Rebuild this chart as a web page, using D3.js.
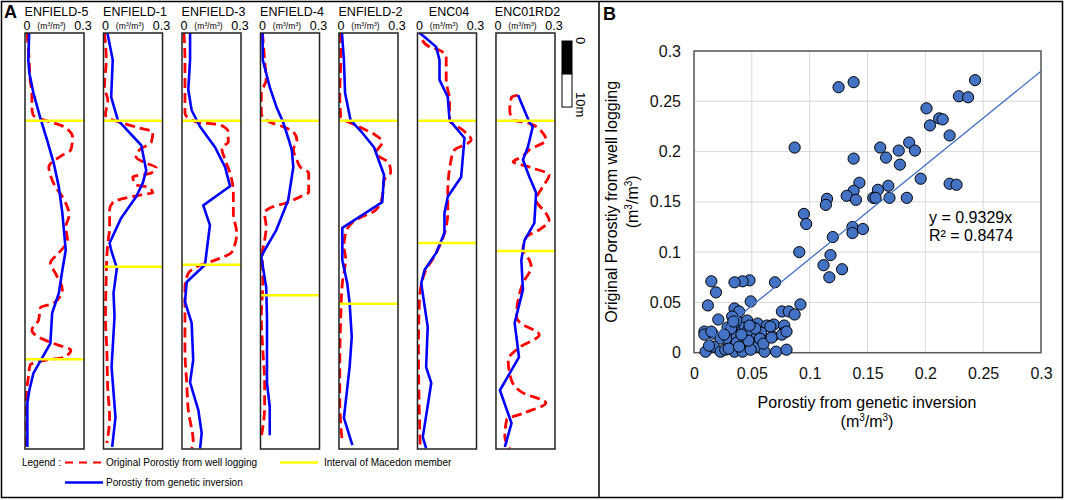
<!DOCTYPE html>
<html><head><meta charset="utf-8">
<script src="https://cdn.jsdelivr.net/npm/d3@7"></script>
<style>body{margin:0;background:#fff}svg{display:block;font-family:"Liberation Sans",Arial,sans-serif}</style>
</head><body><svg width="1065" height="500"></svg>
<script>
// ---------------- DATA ----------------
const wellNames = ["ENFIELD-5","ENFIELD-1","ENFIELD-3","ENFIELD-4","ENFIELD-2","ENC04","ENC01RD2"];
const poroTicks = [0, 0.3];
const poroTickLabels = ["0", "0.3"];
const macedonTop  = [13.3, 13.3, 13.3, 13.3, 13.3, 13.3, 13.3];
const macedonBase = [49.4, 35.4, 35.1, 39.7, 41.0, 31.8, 33.0];

// [depth (m), porosity] — original porosity from well logging
const enfield5Log = [[0,0.010],[4.1,0.021],[7.1,0.026],[9.1,0.035],[11.2,0.035],[12.4,0.041],[14.2,0.198],[15.8,0.242],[17.7,0.233],[18.5,0.190],[20.3,0.121],[21.5,0.129],[23.3,0.155],[24.8,0.190],[27.6,0.224],[29.4,0.207],[31.4,0.216],[33.3,0.172],[34.8,0.129],[36.4,0.155],[38.9,0.190],[40.9,0.146],[41.6,0.078],[43.5,0.069],[45.0,0.035],[46.2,0.078],[47.3,0.172],[48.0,0.233],[49.1,0.198],[49.5,0.112],[50.3,0.026],[52.1,0.017],[54.1,0.009],[58.2,0.005],[62.7,0.005]];
const enfield1Log = [[0,0.005],[4.1,0.014],[8.2,0.005],[10.2,0.022],[12.4,0.010],[14.4,0.183],[15.0,0.251],[16.5,0.243],[17.7,0.183],[18.8,0.166],[19.7,0.217],[20.4,0.268],[21.2,0.243],[21.8,0.149],[23.0,0.166],[23.3,0.217],[24.2,0.251],[24.5,0.192],[25.7,0.047],[26.8,0.031],[29.4,0.031],[31.8,0.022],[33.9,0.017],[37.0,0.014],[43.0,0.010],[48.0,0.017],[54.1,0.022],[58.2,0.031],[62.1,0.017]];
const enfield3Log = [[0,0.010],[4.1,0.015],[9.1,0.015],[12.1,0.015],[13.5,0.075],[13.9,0.193],[15.0,0.235],[16.5,0.235],[17.4,0.202],[19.2,0.219],[21.2,0.244],[24.2,0.261],[27.3,0.261],[30.3,0.278],[33.2,0.253],[34.4,0.168],[35.4,0.075],[36.4,0.032],[38.5,0.015],[43.0,0.015],[48.0,0.015],[53.0,0.024],[57.1,0.032],[61.9,0.057],[62.9,0.049]];
const enfield4Log = [[0,0.010],[4.1,0.021],[7.1,0.029],[9.1,0.004],[12.1,0.004],[13.5,0.047],[14.2,0.115],[15.0,0.167],[16.2,0.185],[17.7,0.167],[19.2,0.185],[20.3,0.202],[21.2,0.245],[24.1,0.245],[24.8,0.202],[25.7,0.133],[26.5,0.047],[27.3,0.021],[29.4,0.029],[31.4,0.021],[33.3,0.010],[37.9,0.012],[43.0,0.004],[48.0,0.012],[53.0,0.021],[56.6,0.021],[61.2,0.004]];
const enfield2Log = [[0,0.005],[4.1,0.009],[9.1,0.004],[12.7,0.009],[14.2,0.102],[15.5,0.187],[16.5,0.220],[18.2,0.187],[19.7,0.254],[21.1,0.263],[22.3,0.229],[24.8,0.220],[26.8,0.187],[28.3,0.085],[30.3,0.034],[32.4,0.025],[34.1,0.034],[37.9,0.017],[43.0,0.009],[50.6,0.004],[55.6,0.004],[62.1,0.017]];
const enc04Log    = [[1.1,0.025],[2.1,0.061],[2.6,0.112],[3.6,0.146],[7.1,0.146],[10.2,0.163],[13.2,0.163],[14.7,0.230],[16.2,0.273],[16.7,0.256],[17.7,0.188],[19.2,0.171],[24.2,0.154],[27.3,0.154],[30.3,0.137],[33.2,0.097],[36.4,0.036],[40.4,0.010],[48.0,0.005],[58.2,0.010],[62.9,0.014]];
const enc01rd2Log = [[9.4,0.110],[9.7,0.079],[11.7,0.070],[13.2,0.087],[13.6,0.162],[15.1,0.237],[16.2,0.254],[17.7,0.170],[18.8,0.129],[19.5,0.087],[20.3,0.170],[21.5,0.270],[23.3,0.237],[25.3,0.204],[27.3,0.254],[28.3,0.270],[29.8,0.220],[30.9,0.154],[32.9,0.137],[34.4,0.170],[35.4,0.179],[37.9,0.137],[43.0,0.104],[43.8,0.120],[45.7,0.220],[47.6,0.120],[49.5,0.062],[52.6,0.079],[54.5,0.137],[56.0,0.254],[57.6,0.137],[58.6,0.054],[61.2,0.045],[62.9,0.070]];

// [depth (m), porosity] — porosity from genetic inversion
const enfield5Inv = [[0,0.021],[4.1,0.017],[6.1,0.022],[9.1,0.043],[12.9,0.078],[16.2,0.112],[19.7,0.146],[23.3,0.172],[27.3,0.190],[32.9,0.207],[35.9,0.190],[39.4,0.172],[42.4,0.138],[47.0,0.129],[51.5,0.043],[54.1,0.022],[56.0,0.012],[62.7,0.012]];
const enfield1Inv = [[0,0.020],[4.1,0.047],[9.7,0.039],[13.2,0.073],[17.0,0.192],[20.8,0.217],[22.7,0.200],[24.8,0.166],[28.0,0.090],[31.8,0.031],[32.9,0.039],[35.6,0.068],[39.4,0.051],[43.0,0.056],[50.6,0.041],[58.2,0.061],[62.7,0.044]];
const enfield3Inv = [[0,0.041],[4.1,0.041],[8.6,0.032],[11.7,0.049],[14.2,0.092],[17.3,0.168],[20.3,0.219],[23.2,0.244],[26.1,0.108],[29.1,0.142],[32.9,0.126],[35.1,0.117],[37.7,0.024],[40.7,0.015],[43.9,0.049],[49.5,0.057],[52.9,0.041],[57.1,0.083],[60.6,0.100],[62.9,0.092]];
const enfield4Inv = [[0,0.010],[4.1,0.012],[8.2,0.047],[11.2,0.081],[13.5,0.115],[15.9,0.141],[17.7,0.159],[20.3,0.167],[25.3,0.141],[29.8,0.081],[32.9,0.021],[33.9,0.004],[38.5,0.029],[43.0,0.033],[53.0,0.033],[56.6,0.047],[60.9,0.047]];
const enfield2Inv = [[0,0.015],[4.1,0.025],[9.1,0.031],[13.2,0.059],[15.1,0.118],[17.3,0.178],[21.5,0.229],[25.6,0.220],[29.5,0.017],[34.4,0.017],[37.9,0.042],[40.9,0.054],[46.0,0.065],[50.6,0.054],[58.3,0.025],[62.4,0.068]];
const enc04Inv    = [[0,0.010],[0.6,0.036],[2.1,0.095],[4.1,0.112],[7.1,0.112],[9.7,0.154],[13.2,0.163],[15.9,0.239],[21.8,0.222],[24.8,0.154],[27.3,0.137],[30.3,0.137],[33.3,0.095],[35.9,0.036],[37.9,0.019],[44.5,0.052],[50.6,0.044],[53.0,0.070],[61.2,0.027],[62.9,0.044]];
const enc01rd2Inv = [[9.4,0.112],[13.5,0.170],[14.2,0.187],[17.3,0.162],[19.2,0.137],[21.8,0.170],[24.2,0.204],[28.8,0.195],[31.4,0.145],[34.4,0.129],[38.9,0.137],[43.9,0.095],[49.1,0.117],[54.1,0.020],[59.1,0.079],[62.7,0.045]];

const logSeries = [enfield5Log, enfield1Log, enfield3Log, enfield4Log, enfield2Log, enc04Log, enc01rd2Log];
const invSeries = [enfield5Inv, enfield1Inv, enfield3Inv, enfield4Inv, enfield2Inv, enc04Inv, enc01rd2Inv];

// Panel B: [porosity from inversion, original porosity]
const scatterPoints = [
[0.125,0.264],[0.138,0.269],[0.087,0.204],[0.243,0.271],[0.229,0.255],[0.237,0.254],[0.201,0.243],[0.212,0.233],[0.215,0.232],[0.204,0.226],
[0.221,0.216],[0.138,0.193],[0.161,0.204],[0.166,0.194],[0.177,0.201],[0.186,0.209],[0.191,0.201],[0.178,0.187],[0.196,0.173],[0.221,0.168],
[0.227,0.167],[0.184,0.154],[0.169,0.154],[0.168,0.166],[0.159,0.162],[0.155,0.154],[0.157,0.154],[0.143,0.169],[0.138,0.161],[0.132,0.156],
[0.140,0.152],[0.115,0.153],[0.114,0.147],[0.095,0.138],[0.097,0.128],[0.137,0.125],[0.137,0.119],[0.146,0.123],[0.120,0.115],[0.091,0.100],
[0.118,0.097],[0.112,0.087],[0.117,0.075],[0.128,0.083],[0.070,0.070],[0.048,0.072],[0.042,0.071],[0.035,0.070],[0.015,0.071],[0.019,0.060],
[0.012,0.047],[0.049,0.051],[0.092,0.048],[0.035,0.044],[0.039,0.041],[0.076,0.041],[0.082,0.041],[0.087,0.038],[0.021,0.033],[0.033,0.036],
[0.039,0.030],[0.046,0.032],[0.055,0.029],[0.069,0.028],[0.063,0.027],[0.078,0.027],[0.009,0.021],[0.016,0.019],[0.029,0.025],[0.035,0.023],
[0.042,0.022],[0.051,0.025],[0.052,0.019],[0.058,0.020],[0.059,0.012],[0.068,0.016],[0.078,0.020],[0.023,0.014],[0.030,0.013],[0.037,0.016],
[0.045,0.016],[0.036,0.009],[0.043,0.008],[0.050,0.009],[0.055,0.006],[0.017,0.006],[0.010,0.001],[0.023,0.001],[0.027,0.003],[0.035,0.001],
[0.042,0.001],[0.049,0.003],[0.061,0.001],[0.071,0.001],[0.080,0.003],[0.009,0.018],[0.015,0.021],[0.013,0.007],[0.032,0.024],[0.044,0.025],
[0.046,0.021],[0.057,0.014],[0.037,0.010],[0.060,0.009],[0.066,0.026],[0.076,0.018],[0.067,0.015],[0.080,0.021],[0.030,0.004],[0.039,0.006],
[0.047,0.012],[0.041,0.018],[0.053,0.024],[0.026,0.018],[0.034,0.031],[0.048,0.027]
];
const trendSlope = 0.9329;
const trendR2 = 0.8474;
const axisTicksB = [0, 0.05, 0.1, 0.15, 0.2, 0.25, 0.3];
const axisTickLabelsB = ["0", "0.05", "0.1", "0.15", "0.2", "0.25", "0.3"];

// ---------------- DRAW ----------------
const svg = d3.select("svg");
const BLUE = "#0000ff", RED = "#ff0000", YELLOW = "#ffff00";

// outer frame + divider
svg.append("rect").attr("x",1.5).attr("y",1.5).attr("width",1061).attr("height",496)
  .attr("fill","none").attr("stroke","#000").attr("stroke-width",1.5);
svg.append("line").attr("x1",599).attr("x2",599).attr("y1",1.5).attr("y2",497.5)
  .attr("stroke","#000").attr("stroke-width",1.5);

// ===== Panel A =====
svg.append("text").attr("x",4).attr("y",18).attr("font-size",18).attr("font-weight","bold").text("A");

const band = d3.scaleBand().domain(wellNames).range([25,555]).paddingInner(0.248).paddingOuter(0);
const yDepth = d3.scaleLinear().domain([0,63]).range([33,449]);

wellNames.forEach((name,i)=>{
  const x0 = band(name), bw = band.bandwidth();
  const xP = d3.scaleLinear().domain([0,0.3]).range([x0, x0+bw]);
  const g = svg.append("g");
  g.append("text").attr("x",x0+bw/2+2).attr("y",16).attr("text-anchor","middle")
    .attr("font-size",12.5).text(name);
  poroTicks.forEach((t,k)=>{
    g.append("text").attr("x",xP(t)+(k===0?2:-1)).attr("y",30).attr("text-anchor","middle")
      .attr("font-size",12.5).text(poroTickLabels[k]);
  });
  const u = g.append("text").attr("x",x0+bw/2-3).attr("y",29).attr("text-anchor","middle").attr("font-size",8.5);
  u.append("tspan").text("(m");
  u.append("tspan").attr("font-size",5.5).attr("dy",-3).text("3");
  u.append("tspan").attr("dy",3).text("/m");
  u.append("tspan").attr("font-size",5.5).attr("dy",-3).text("3");
  u.append("tspan").attr("dy",3).text(")");

  // clip
  const cid = "clip"+i;
  svg.append("clipPath").attr("id",cid).append("rect")
    .attr("x",x0).attr("y",yDepth(0)).attr("width",bw).attr("height",yDepth(63)-yDepth(0));

  const lineLog = d3.line().x(d=>xP(d[1])).y(d=>yDepth(d[0])).curve(d3.curveMonotoneY);
  const lineInv = d3.line().x(d=>xP(d[1])).y(d=>yDepth(d[0]));

  g.append("path").datum(logSeries[i]).attr("d",lineLog).attr("clip-path",`url(#${cid})`)
    .attr("fill","none").attr("stroke",RED).attr("stroke-width",2.8).attr("stroke-dasharray","10,5");
  g.append("path").datum(invSeries[i]).attr("d",lineInv).attr("clip-path",`url(#${cid})`)
    .attr("fill","none").attr("stroke",BLUE).attr("stroke-width",2.6).attr("stroke-linejoin","round");

  [macedonTop[i], macedonBase[i]].forEach(dep=>{
    g.append("line").attr("x1",x0).attr("x2",x0+bw).attr("y1",yDepth(dep)).attr("y2",yDepth(dep))
      .attr("stroke",YELLOW).attr("stroke-width",2.5);
  });
  g.append("rect").attr("x",x0).attr("y",yDepth(0)).attr("width",bw).attr("height",yDepth(63)-yDepth(0))
    .attr("fill","none").attr("stroke","#222").attr("stroke-width",1.5);
});

// scale bar (10 m)
const barTop = 41, barX = 562, barW = 10;
const hPerM = yDepth(1)-yDepth(0);
svg.append("rect").attr("x",barX).attr("y",barTop).attr("width",barW).attr("height",hPerM*5)
  .attr("fill","#000").attr("stroke","#000");
svg.append("rect").attr("x",barX).attr("y",barTop+hPerM*5).attr("width",barW).attr("height",hPerM*5)
  .attr("fill","#fff").attr("stroke","#000");
svg.append("text").attr("transform",`translate(576,37) rotate(90)`).attr("font-size",13).text("0");
svg.append("text").attr("transform",`translate(576,92) rotate(90)`).attr("font-size",13).text("10m");

// legend
const lg = svg.append("g").attr("font-size",10);
lg.append("text").attr("x",22).attr("y",466).text("Legend :");
lg.append("line").attr("x1",65).attr("x2",102).attr("y1",462.5).attr("y2",462.5)
  .attr("stroke",RED).attr("stroke-width",2).attr("stroke-dasharray","8,6");
lg.append("text").attr("x",106).attr("y",466).text("Original Porostiy from well logging");
lg.append("line").attr("x1",280).attr("x2",318).attr("y1",462.5).attr("y2",462.5)
  .attr("stroke",YELLOW).attr("stroke-width",2.5);
lg.append("text").attr("x",324).attr("y",466).text("Interval of Macedon member");
lg.append("line").attr("x1",65).attr("x2",103).attr("y1",482.5).attr("y2",482.5)
  .attr("stroke",BLUE).attr("stroke-width",2.5);
lg.append("text").attr("x",106).attr("y",486).text("Porostiy from genetic inversion");

// ===== Panel B =====
svg.append("text").attr("x",603).attr("y",20).attr("font-size",18).attr("font-weight","bold").text("B");
const xB = d3.scaleLinear().domain([0,0.3]).range([694,1041]);
const yB = d3.scaleLinear().domain([0,0.3]).range([352.7,51]);

const grid = svg.append("g").attr("stroke","#d9d9d9").attr("stroke-width",1);
axisTicksB.forEach(t=>{
  grid.append("line").attr("x1",xB(t)).attr("x2",xB(t)).attr("y1",yB(0)).attr("y2",yB(0.3));
  grid.append("line").attr("x1",xB(0)).attr("x2",xB(0.3)).attr("y1",yB(t)).attr("y2",yB(t));
});
svg.append("rect").attr("x",xB(0)).attr("y",yB(0.3)).attr("width",xB(0.3)-xB(0)).attr("height",yB(0)-yB(0.3))
  .attr("fill","none").attr("stroke","#595959").attr("stroke-width",1.5);

const fmtB = (d)=>axisTicksB.indexOf(d)>=0 ? axisTickLabelsB[axisTicksB.indexOf(d)] : "";
const ax = svg.append("g").attr("transform",`translate(0,${yB(0)})`)
  .call(d3.axisBottom(xB).tickValues(axisTicksB).tickFormat(fmtB).tickSize(0).tickPadding(15));
const ay = svg.append("g").attr("transform",`translate(${xB(0)},0)`)
  .call(d3.axisLeft(yB).tickValues(axisTicksB).tickFormat(fmtB).tickSize(0).tickPadding(13));
[ax,ay].forEach(a=>{
  a.select(".domain").remove();
  a.selectAll("text").attr("font-size",16).attr("fill","#111").attr("font-family","'Liberation Sans',Arial,sans-serif");
});

// points
svg.append("g").selectAll("circle").data(scatterPoints).join("circle")
  .attr("cx",d=>xB(d[0])).attr("cy",d=>yB(d[1])).attr("r",5.6)
  .attr("fill","#4472c4").attr("stroke","#000").attr("stroke-width",1);

// trendline
const xMin = d3.min(scatterPoints, d=>d[0]);
svg.append("line").attr("x1",xB(xMin)).attr("y1",yB(trendSlope*xMin))
  .attr("x2",xB(0.3)).attr("y2",yB(trendSlope*0.3))
  .attr("stroke","#4472c4").attr("stroke-width",1.3);

svg.append("text").attr("x",929).attr("y",223).attr("font-size",16).text(`y = ${trendSlope}x`);
svg.append("text").attr("x",929).attr("y",241).attr("font-size",16).text(`R² = ${trendR2}`);

// axis titles
const xt = svg.append("g").attr("font-size",16).attr("text-anchor","middle");
xt.append("text").attr("x",867).attr("y",408).text("Porostiy from genetic inversion");
const xt2 = xt.append("text").attr("x",867).attr("y",427);
xt2.append("tspan").text("(m");
xt2.append("tspan").attr("font-size",10).attr("dy",-6).text("3");
xt2.append("tspan").attr("dy",6).text("/m");
xt2.append("tspan").attr("font-size",10).attr("dy",-6).text("3");
xt2.append("tspan").attr("dy",6).text(")");

const yt = svg.append("g").attr("font-size",16).attr("text-anchor","middle")
  .attr("transform",`translate(0,${(yB(0)+yB(0.3))/2}) `);
yt.append("text").attr("transform","translate(617,0) rotate(-90)").text("Original Porostiy from well logging");
const yt2 = yt.append("text").attr("transform","translate(638,0) rotate(-90)");
yt2.append("tspan").text("(m");
yt2.append("tspan").attr("font-size",10).attr("dy",-6).text("3");
yt2.append("tspan").attr("dy",6).text("/m");
yt2.append("tspan").attr("font-size",10).attr("dy",-6).text("3");
yt2.append("tspan").attr("dy",6).text(")");
</script></body></html>
